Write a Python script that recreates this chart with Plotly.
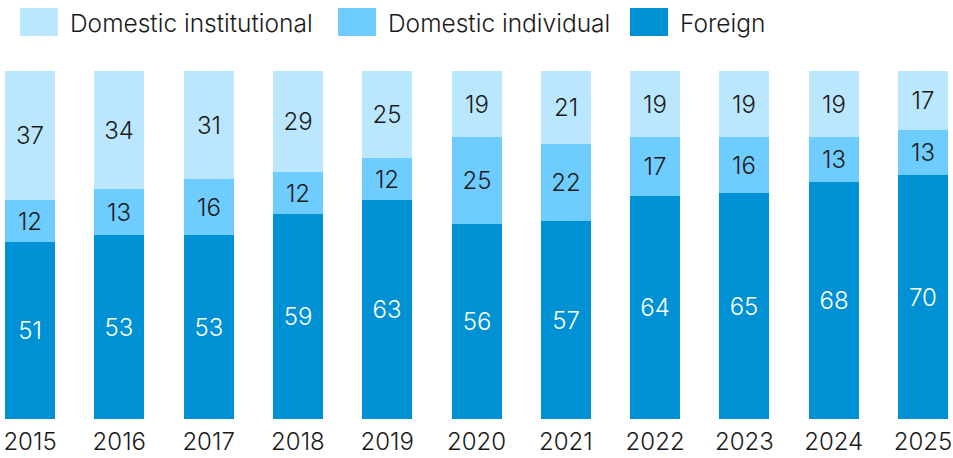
import plotly.graph_objects as go

years = ["2015", "2016", "2017", "2018", "2019", "2020", "2021", "2022", "2023", "2024", "2025"]
foreign = [51, 53, 53, 59, 63, 56, 57, 64, 65, 68, 70]
domestic_individual = [12, 13, 16, 12, 12, 25, 22, 17, 16, 13, 13]
domestic_institutional = [37, 34, 31, 29, 25, 19, 21, 19, 19, 19, 17]

series_names = ["Domestic institutional", "Domestic individual", "Foreign"]
colors = {"Foreign": "#0091d5", "Domestic individual": "#6ecdfe", "Domestic institutional": "#bbe7fe"}

W, H = 953, 458
FONT = "Inter"
WEIGHT = 300
SIZE = 24
LEGEND_SIZE = 24.5
positions = list(range(len(years)))

fig = go.Figure()

def add_series(name, values, text_color):
    fig.add_trace(go.Bar(
        x=positions, y=values, name=name,
        marker=dict(color=colors[name], line=dict(width=0)),
        width=0.56,
        text=values, texttemplate="%{text}",
        textposition="inside", insidetextanchor="middle", textangle=0,
        constraintext="none",
        textfont=dict(family=FONT, size=SIZE, color=text_color, weight=WEIGHT),
        showlegend=False, hoverinfo="skip",
    ))

add_series("Foreign", foreign, "#ffffff")
add_series("Domestic individual", domestic_individual, "#1a1a1a")
add_series("Domestic institutional", domestic_institutional, "#1a1a1a")

# Legend drawn as swatches + labels across the top
plot_top, plot_bottom = 71, 419
def py(px):
    return (plot_bottom - px) / (plot_bottom - plot_top)

legend_items = [(20, series_names[0]), (338, series_names[1]), (630, series_names[2])]
shapes, annotations = [], []
for x0, name in legend_items:
    shapes.append(dict(type="rect", xref="paper", yref="paper",
                       x0=x0 / W, x1=(x0 + 38) / W, y0=py(36), y1=py(8),
                       fillcolor=colors[name], line=dict(width=0)))
    annotations.append(dict(xref="paper", yref="paper", x=(x0 + 48) / W, y=py(23),
                            text=name, showarrow=False, xanchor="left", yanchor="middle",
                            font=dict(family=FONT, size=LEGEND_SIZE, color="#1a1a1a", weight=WEIGHT)))

fig.update_layout(
    width=W, height=H,
    margin=dict(l=0, r=0, t=plot_top, b=H - plot_bottom),
    barmode="stack", bargap=0,
    plot_bgcolor="#ffffff", paper_bgcolor="#ffffff",
    uniformtext=dict(mode=False),
    shapes=shapes, annotations=annotations,
    xaxis=dict(tickmode="array", tickvals=positions, ticktext=years,
               range=[-30 / 89.3, 10 + 30 / 89.3],
               showgrid=False, zeroline=False, showline=False, ticks="",
               ticklabelstandoff=6,
               tickfont=dict(family=FONT, size=SIZE, color="#1a1a1a", weight=WEIGHT)),
    yaxis=dict(range=[0, 100], visible=False, fixedrange=True),
)

fig.write_html("out.html")
